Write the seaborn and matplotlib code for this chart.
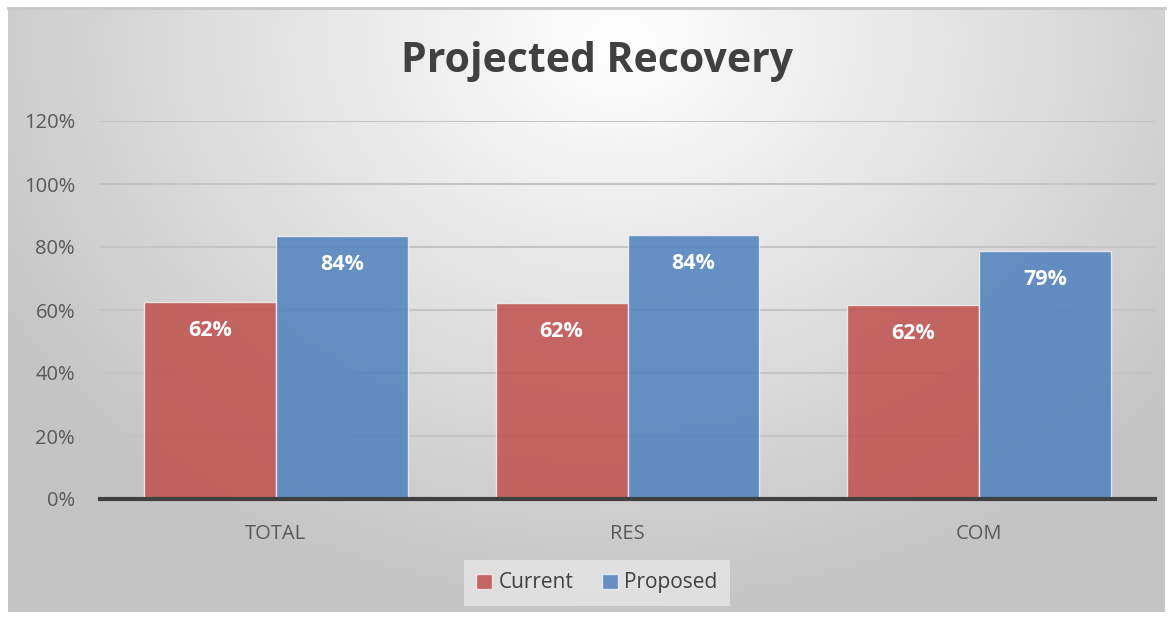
import numpy as np
import pandas as pd
import matplotlib
matplotlib.use("Agg")
import matplotlib.pyplot as plt
import seaborn as sns
from matplotlib.ticker import PercentFormatter

categories = ["TOTAL", "RES", "COM"]
series_names = ["Current", "Proposed"]
current = [0.624, 0.623, 0.616]
proposed = [0.836, 0.839, 0.786]
yticks = [0.0, 0.2, 0.4, 0.6, 0.8, 1.0, 1.2]

df = pd.DataFrame({
    "category": categories * 2,
    "series": [series_names[0]] * 3 + [series_names[1]] * 3,
    "value": current + proposed,
})

sns.set_theme(style="white")
plt.rcParams["font.family"] = ["Open Sans", "DejaVu Sans"]

W, H = 1172, 617
fig = plt.figure(figsize=(W / 100, H / 100), dpi=100)
fig.patch.set_facecolor("white")

# background gradient panel
bx0, by0, bx1, by1 = 8, 8, 1165, 612
bg = fig.add_axes([bx0 / W, 1 - by1 / H, (bx1 - bx0) / W, (by1 - by0) / H], zorder=0)
ny, nx = 300, 600
yy, xx = np.mgrid[0:ny, 0:nx]
px = bx0 + xx / (nx - 1) * (bx1 - bx0)
py = by0 + yy / (ny - 1) * (by1 - by0)
cx, cy = 620, 40
r = np.sqrt(((px - cx) / 1.0) ** 2 + ((py - cy) * 1.25) ** 2)
t = np.clip(r / 720, 0, 1)
val = 1.0 - t * (1.0 - 0.77)
img = np.dstack([val, val, val])
bg.imshow(img, aspect="auto", extent=[0, 1, 0, 1], interpolation="bilinear")
bg.set_xlim(0, 1); bg.set_ylim(0, 1)
bg.set_xticks([]); bg.set_yticks([])
for s in bg.spines.values():
    s.set_visible(False)
bg.spines["top"].set_visible(True)
bg.spines["top"].set_color("#c8c8c8")
bg.spines["top"].set_linewidth(2)

ax = fig.add_axes([100 / W, 1 - 499 / H, (1155 - 100) / W, (499 - 121) / H], zorder=1)
ax.set_facecolor("none")

palette = {"Current": "#C0504D", "Proposed": "#4F81BD"}
sns.barplot(data=df, x="category", y="value", hue="series", order=categories,
            hue_order=series_names, palette=palette, width=0.75, alpha=0.85,
            saturation=1, edgecolor="#f0f0f0", linewidth=1.0, ax=ax, zorder=2,
            legend=True)

ax.set_ylim(0, 1.2)
ax.set_xlim(-0.5, 2.5)
ax.set_yticks(yticks)
ax.yaxis.set_major_formatter(PercentFormatter(1.0, decimals=0))
ax.grid(axis="y", color="#c4c4c4", linewidth=1.5, zorder=0)
ax.set_axisbelow(True)
for s in ["top", "right", "left"]:
    ax.spines[s].set_visible(False)
ax.spines["bottom"].set_color("#404040")
ax.spines["bottom"].set_linewidth(3)
ax.spines["bottom"].set_zorder(3)
ax.tick_params(axis="both", length=0, labelsize=14.5, labelcolor="#595959")
ax.tick_params(axis="y", pad=18)
ax.tick_params(axis="x", pad=18)
ax.set_xlabel("")
ax.set_ylabel("")

for cont in ax.containers:
    for bar in cont:
        h = bar.get_height()
        ax.text(bar.get_x() + bar.get_width() / 2, h - 0.09, f"{h:.0%}",
                ha="center", va="center", color="white", fontsize=15.5,
                fontweight="bold", zorder=4)

leg = ax.legend(loc="center", bbox_to_anchor=(0.471, -0.222), ncol=2, frameon=True,
                fontsize=15, handlelength=0.75, handleheight=0.75, handletextpad=0.3,
                columnspacing=1.4, borderpad=0.6, fancybox=False)
leg.get_frame().set_facecolor("#ebebeb")
leg.get_frame().set_alpha(0.7)
leg.get_frame().set_edgecolor("none")
for txt in leg.get_texts():
    txt.set_color("#404040")

fig.text(597 / W, 1 - 62 / H, "Projected Recovery", ha="center", va="center",
         fontsize=29.5, fontweight="bold", color="#404040")

fig.savefig("out.png", dpi=100)
